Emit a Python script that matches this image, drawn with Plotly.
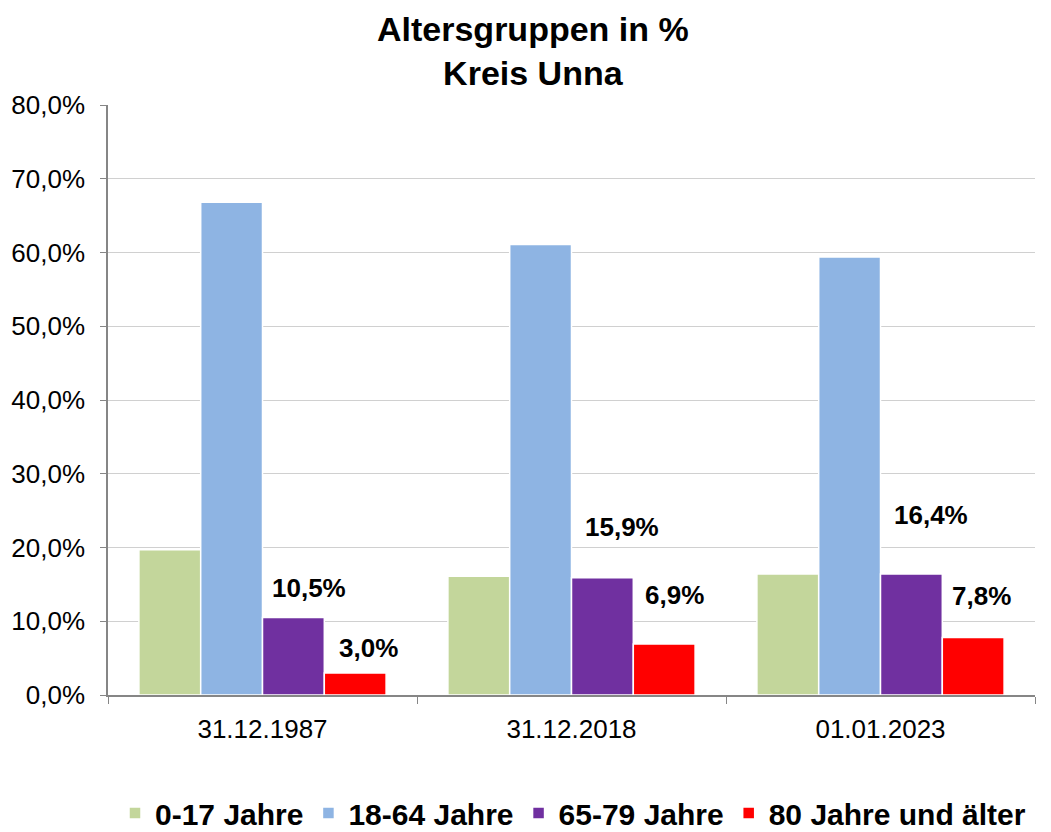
import plotly.graph_objects as go

categories = ["31.12.1987", "31.12.2018", "01.01.2023"]
series_names = ["0-17 Jahre", "18-64 Jahre", "65-79 Jahre", "80 Jahre und älter"]
values_0_17 = [19.7, 16.1, 16.4]
values_18_64 = [66.8, 61.1, 59.4]
values_65_79 = [10.5, 15.9, 16.4]
values_80_plus = [3.0, 6.9, 7.8]
colors = ["#C3D69B", "#8EB4E3", "#7030A0", "#FF0000"]
labelled = [False, False, True, True]
title_text = "<b>Altersgruppen in %<br>Kreis Unna</b>"

# pixel offsets of the data labels (style only)
label_xshift = {2: [16, 20, 20], 3: [13, 10, 8]}
label_yshift = {2: [30, 51, 59], 3: [25, 49, 41]}

all_values = [values_0_17, values_18_64, values_65_79, values_80_plus]
FONT = "Liberation Sans, Arial, sans-serif"
W, H = 1051, 832
ML, MR, MT, MB = 108, 16, 105, 137

fig = go.Figure()
for name, vals, col in zip(series_names, all_values, colors):
    fig.add_trace(go.Bar(
        x=categories, y=vals, name=name,
        marker=dict(color=col, line=dict(color="white", width=1.5)),
    ))

n = len(all_values)
bargap = 0.2
bw = (1 - bargap) / n
for k, (vals, lab) in enumerate(zip(all_values, labelled)):
    if not lab:
        continue
    off = -(1 - bargap) / 2 + bw * (k + 0.5)
    for i, v in enumerate(vals):
        fig.add_annotation(
            x=i + off, y=v, xref="x", yref="y",
            text=f"{v:.1f}".replace(".", ",") + "%",
            showarrow=False, xanchor="center", yanchor="middle",
            xshift=label_xshift[k][i], yshift=label_yshift[k][i],
            font=dict(family=FONT, size=26, color="black", weight="bold"),
        )

# title as a multi-line annotation
fig.add_annotation(
    xref="paper", yref="paper",
    x=(533 - ML) / (W - ML - MR), y=1 + (MT - 51) / (H - MT - MB),
    text=title_text, showarrow=False, xanchor="center", yanchor="middle",
    font=dict(family=FONT, size=34, color="black"),
)

fig.update_layout(
    width=W, height=H,
    paper_bgcolor="white", plot_bgcolor="white",
    margin=dict(l=ML, r=MR, t=MT, b=MB, autoexpand=False),
    barmode="group", bargap=bargap, bargroupgap=0,
    separators=",.",
    legend=dict(
        orientation="h", xref="container", yref="container",
        x=573 / W, xanchor="center", y=(H - 813) / H, yanchor="middle",
        font=dict(family=FONT, size=30, color="black", weight="bold"),
        itemclick=False, traceorder="normal",
    ),
    font=dict(family=FONT, color="black"),
)

fig.update_yaxes(
    range=[0, 80], dtick=10, tickformat=".1f", ticksuffix="%",
    showgrid=True, gridcolor="#D0D0D0", gridwidth=1,
    showline=True, linecolor="#868686", linewidth=1.5,
    ticks="outside", ticklen=6, tickcolor="#868686",
    tickfont=dict(family=FONT, size=26, color="black"),
    ticklabelstandoff=10,
    zeroline=False,
)
fig.update_xaxes(
    type="category", tickson="boundaries",
    showline=True, linecolor="#868686", linewidth=1.5,
    ticks="outside", ticklen=7, tickcolor="#868686",
    tickfont=dict(family=FONT, size=26, color="black"),
    ticklabelstandoff=10,
    showgrid=False,
)

fig.write_html("out.html", config={"displayModeBar": False})

# remove the default page margin so the figure sits at the window's top-left
with open("out.html", "r", encoding="utf-8") as f:
    html = f.read()
html = html.replace("<body>", '<body style="margin:0;padding:0;">', 1)
with open("out.html", "w", encoding="utf-8") as f:
    f.write(html)
